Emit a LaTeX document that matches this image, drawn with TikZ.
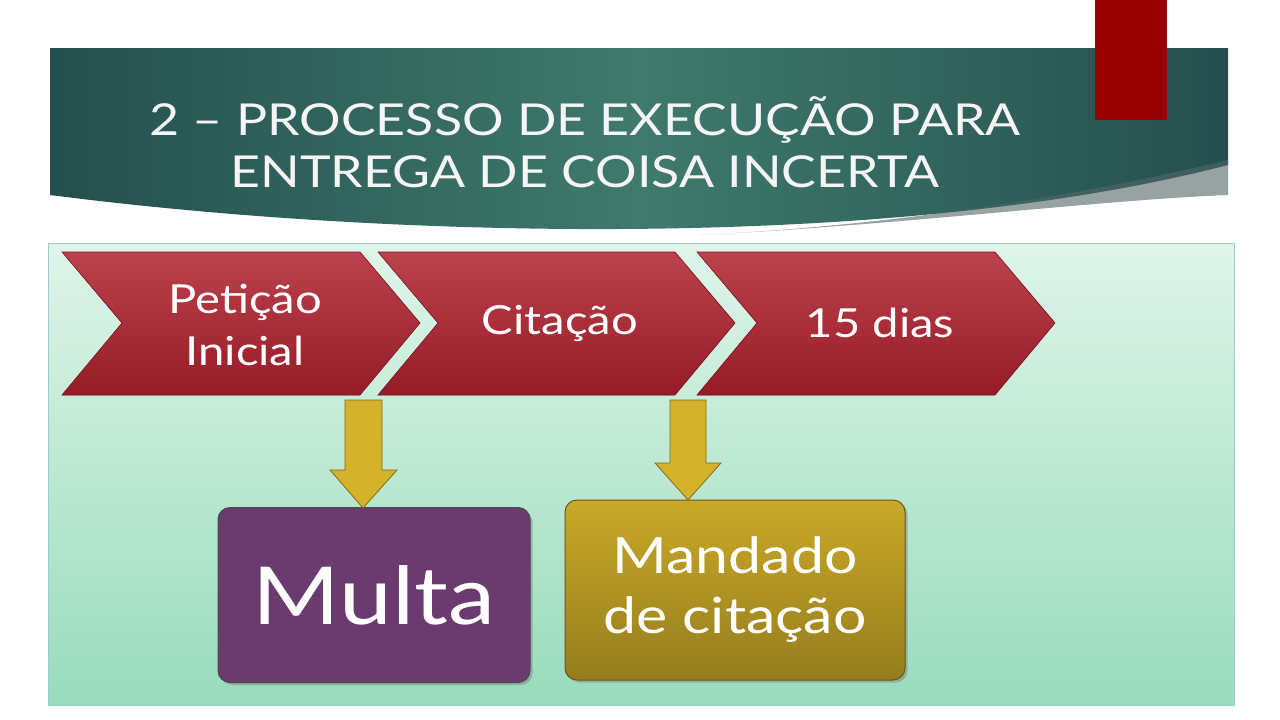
\documentclass[tikz,border=0pt]{standalone}
\usepackage{fontspec}
\setmainfont{Lato}[FakeStretch=1.18]
\usetikzlibrary{shadows}
\definecolor{band}{HTML}{244F4E}
\definecolor{bandc}{HTML}{3F7A6C}
\definecolor{chev}{HTML}{B0202E}
\definecolor{gold}{HTML}{D4B22A}
\definecolor{purp}{HTML}{6B3A6E}
\tikzset{chevbox/.style={fill=chev,draw=chev!70!black,line width=0.6pt,top color=chev!85!white,bottom color=chev!85!black},
 chevtext/.style={text=white,font=\fontsize{40}{48}\selectfont,align=center},
 downarrow/.style={fill=gold,draw=gold!60!black,line width=0.8pt}}
\begin{document}
\begin{tikzpicture}[x=1pt,y=-1pt]
\useasboundingbox (0,0) rectangle (1280,720);
\fill[white] (0,0) rectangle (1280,720);
% header band
\shade[left color=band,right color=band,middle color=bandc] (50,48) -- (1228,48) -- (1228,165) .. controls (900,250) and (400,240) .. (50,195) -- cycle;
\fill[gray!50!band,opacity=0.6] (1228,160) .. controls (1000,215) and (800,230) .. (700,235) .. controls (900,225) and (1100,200) .. (1228,195) -- cycle;
\fill[red!55!black!90!red] (1095,0) rectangle (1167,120);
\node[text=white!92!gray,font=\fontsize{44}{52}\selectfont,align=center] (title) at (585,142) {2 – PROCESSO DE EXECUÇÃO PARA\\ENTREGA DE COISA INCERTA};
% panel
\shade[top color=green!5!white!92!teal,bottom color=green!30!teal!40!white,draw=teal!40] (48,243) rectangle (1234,705);
% chevrons
\draw[chevbox] (62,252) -- (360,252) -- (420,323) -- (360,395) -- (62,395) -- (122,323) -- cycle;
\draw[chevbox] (378,252) -- (675,252) -- (735,323) -- (675,395) -- (378,395) -- (438,323) -- cycle;
\draw[chevbox] (697,252) -- (995,252) -- (1055,323) -- (995,395) -- (697,395) -- (757,323) -- cycle;
\node[chevtext] (c1) at (245,325) {Petição\\[4pt]Inicial};
\node[chevtext] (c2) at (560,323) {Citação};
\node[chevtext] (c3) at (880,323) {15 dias};
% boxes
\node[draw=black!70,line width=1pt,fill=purp,rounded corners=12pt,minimum width=312pt,minimum height=175pt,text=white,font=\fontsize{80}{90}\selectfont,drop shadow] (multa) at (374,595) {Multa};
\node[draw=gold!50!black,line width=1pt,top color=gold!95!black,bottom color=gold!70!black,rounded corners=12pt,minimum width=340pt,minimum height=180pt,text=white,font=\fontsize{50}{60}\selectfont,align=center,drop shadow] (mand) at (735,590) {Mandado\\de citação};
% arrows
\draw[downarrow] (345,400) -- (382,400) -- (382,470) -- (397,470) -- (363,508) -- (330,470) -- (345,470) -- cycle;
\draw[downarrow] (670,400) -- (706,400) -- (706,463) -- (721,463) -- (688,500) -- (655,463) -- (670,463) -- cycle;
\end{tikzpicture}
\end{document}
